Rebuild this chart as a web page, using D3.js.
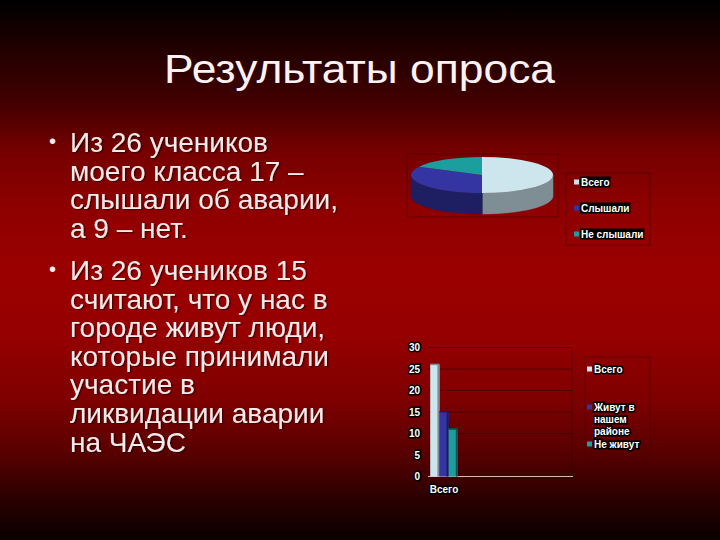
<!DOCTYPE html>
<html><head><meta charset="utf-8">
<script src="https://cdn.jsdelivr.net/npm/d3@7"></script>
<style>html,body{margin:0;padding:0;background:#000;}svg{display:block;}</style>
</head><body>
<svg id="c" width="720" height="540"></svg>
<script>
// ---- data ----
const titleText = "Результаты опроса";
const bullet1 = ["Из 26 учеников", "моего класса 17 –", "слышали об аварии,", "а 9 – нет."];
const bullet2 = ["Из 26 учеников 15", "считают, что у нас в", "городе живут люди,", "которые принимали", "участие в", "ликвидации аварии", "на ЧАЭС"];
const pieLabels = ["Всего", "Слышали", "Не слышали"];
const pieValues = [26, 17, 9];
const pieTopColors = ["#cde6ee", "#3434a2", "#1c9e9e"];
const pieSideColors = ["#7e8e94", "#1e1e62", "#0f5c5c"];
const barCategories = ["Всего"];
const barSeries = ["Всего", "Живут в нашем районе", "Не живут"];
const barLegendLines = [["Всего"], ["Живут в", "нашем", "районе"], ["Не живут"]];
const barValues = [26, 15, 11];
const barColors = ["#cde6ee", "#3434a2", "#1c9e9e"];
const barSideColors = ["#7e8e94", "#1a1a5e", "#0c5252"];
const yTicks = [0, 5, 10, 15, 20, 25, 30];

const svg = d3.select("#c");
const font = "'Liberation Sans', Arial, sans-serif";

// background gradient
const defs = svg.append("defs");
const bg = defs.append("linearGradient").attr("id", "bg").attr("x1", 0).attr("y1", 0).attr("x2", 0).attr("y2", 1);
[[0, "#000000"], [0.09, "#220000"], [0.19, "#420000"], [0.28, "#760000"], [0.38, "#8e0000"], [0.5, "#9b0000"],
 [0.62, "#960000"], [0.74, "#7e0000"], [0.84, "#580000"], [0.93, "#280000"], [1, "#0a0000"]]
  .forEach(([o, c]) => bg.append("stop").attr("offset", o).attr("stop-color", c));
const sh = defs.append("filter").attr("id", "sh").attr("x", "-5%").attr("y", "-20%").attr("width", "110%").attr("height", "140%");
sh.append("feDropShadow").attr("dx", 1.5).attr("dy", 1.2).attr("stdDeviation", 0.6)
  .attr("flood-color", "#000").attr("flood-opacity", 0.45);
svg.append("rect").attr("width", 720).attr("height", 540).attr("fill", "url(#bg)");

// title
svg.append("text").attr("x", 359.5).attr("y", 83).attr("text-anchor", "middle")
  .attr("font-family", font).attr("font-size", 41.5).attr("fill", "#fbf3f3")
  .attr("textLength", 391).attr("lengthAdjust", "spacingAndGlyphs").text(titleText);

// body text
function drawBullet(lines, y0) {
  const lh = 28.6;
  svg.append("text").attr("x", 49).attr("y", y0 - 4).attr("font-family", font).attr("font-size", 20)
    .attr("fill", "#f6ecec").text("•");
  lines.forEach((l, i) => {
    svg.append("text").attr("x", 70).attr("y", y0 + i * lh).attr("font-family", font).attr("font-size", 28)
      .attr("fill", "#f6ecec").attr("filter", "url(#sh)").text(l);
  });
}
drawBullet(bullet1, 152);
drawBullet(bullet2, 280);

// ---- 3D pie ----
const cx = 482, cy = 175, rx = 71, ry = 18, depth = 21;
const arcs = d3.pie().sort(null).value(d => d)(pieValues);
const pt = (a, dy) => [cx + rx * Math.sin(a), cy - ry * Math.cos(a) + dy];
svg.append("rect").attr("x", 407).attr("y", 154).attr("width", 151).attr("height", 63)
  .attr("fill", "none").attr("stroke", "rgba(70,0,0,0.6)").attr("stroke-width", 1);
const line = d3.line();
arcs.forEach((a, i) => {
  const a0 = Math.max(a.startAngle, Math.PI / 2), a1 = Math.min(a.endAngle, 3 * Math.PI / 2);
  if (a0 >= a1) return;
  const n = 40, top = [], bot = [];
  for (let k = 0; k <= n; k++) { const t = a0 + (a1 - a0) * k / n; top.push(pt(t, 0)); bot.push(pt(t, depth)); }
  svg.append("path").attr("d", line(top.concat(bot.reverse())) + "Z")
    .attr("fill", pieSideColors[i]).attr("stroke", pieSideColors[i]).attr("stroke-width", 0.5);
});
const pg = svg.append("g").attr("transform", `translate(${cx},${cy}) scale(1,${ry / rx})`);
pg.selectAll("path").data(arcs).join("path")
  .attr("d", d3.arc().innerRadius(0).outerRadius(rx))
  .attr("fill", (d, i) => pieTopColors[i]);
svg.append("line").attr("x1", cx).attr("x2", cx).attr("y1", cy + ry).attr("y2", cy + ry + depth)
  .attr("stroke", "#222244").attr("stroke-width", 1);

// pie legend
svg.append("rect").attr("x", 566).attr("y", 173).attr("width", 84).attr("height", 72)
  .attr("fill", "none").attr("stroke", "rgba(70,0,0,0.6)");
pieLabels.forEach((l, i) => {
  const yy = 182 + i * 26;
  svg.append("rect").attr("x", 574).attr("y", yy - 2.5).attr("width", 5).attr("height", 5).attr("fill", pieTopColors[i]);
  const t = svg.append("text").attr("x", 581).attr("y", yy).attr("dominant-baseline", "central")
    .attr("font-family", font).attr("font-weight", "bold").attr("font-size", 10).attr("fill", "#fff").text(l);
  const bb = t.node().getBBox();
  svg.insert("rect", () => t.node()).attr("x", bb.x - 1).attr("y", bb.y).attr("width", bb.width + 2).attr("height", bb.height)
    .attr("fill", "#000");
});

// ---- bar chart ----
const plotL = 428, plotR = 572;
const y = d3.scaleLinear().domain([0, 30]).range([476.5, 347.5]);
const x0 = d3.scaleBand().domain(barCategories).range([plotL, 460]).paddingOuter(0.08);
const x1 = d3.scaleBand().domain(barSeries).range([0, x0.bandwidth()]);
const bgG = svg.append("g");
yTicks.filter(t => t > 0).forEach(t => {
  bgG.append("line").attr("x1", plotL).attr("x2", plotR).attr("y1", y(t)).attr("y2", y(t))
    .attr("stroke", "rgba(55,0,0,0.6)").attr("stroke-width", 1);
});
bgG.append("line").attr("x1", plotR).attr("x2", plotR).attr("y1", y(30)).attr("y2", y(0))
  .attr("stroke", "rgba(55,0,0,0.6)");
bgG.append("line").attr("x1", plotL).attr("x2", plotR + 1).attr("y1", y(0)).attr("y2", y(0))
  .attr("stroke", "#d8b8b8").attr("stroke-width", 1.2);

const cat = barCategories[0];
barSeries.forEach((s, i) => {
  const bx = x0(cat) + x1(s), bw = x1.bandwidth(), v = barValues[i];
  svg.append("rect").attr("x", bx).attr("y", y(v)).attr("width", bw).attr("height", y(0) - y(v)).attr("fill", barColors[i]);
  svg.append("rect").attr("x", bx + bw - 2).attr("y", y(v)).attr("width", 2).attr("height", y(0) - y(v)).attr("fill", barSideColors[i]);
  svg.append("rect").attr("x", bx).attr("y", y(v) - 1).attr("width", bw).attr("height", 1.5).attr("fill", barSideColors[i]);
});

const axG = svg.append("g").attr("transform", "translate(420,0)")
  .call(d3.axisLeft(y).tickValues(yTicks).tickSize(0).tickPadding(0));
axG.select(".domain").remove();
axG.selectAll("text").attr("font-family", font).attr("font-weight", "bold").attr("font-size", 10)
  .attr("fill", "#fff").attr("stroke", "#000").attr("stroke-width", 3).attr("paint-order", "stroke");

svg.append("text").attr("x", x0(cat) + x0.bandwidth() / 2).attr("y", 489).attr("text-anchor", "middle")
  .attr("dominant-baseline", "central").attr("font-family", font).attr("font-weight", "bold").attr("font-size", 10)
  .attr("fill", "#fff").attr("stroke", "#000").attr("stroke-width", 3).attr("paint-order", "stroke").text(cat);

// bar legend
svg.append("rect").attr("x", 585).attr("y", 357).attr("width", 65).attr("height", 101)
  .attr("fill", "none").attr("stroke", "rgba(70,0,0,0.6)");
const legY = [369, 407, 444];
barLegendLines.forEach((ls, i) => {
  svg.append("rect").attr("x", 587).attr("y", legY[i] - 2.5).attr("width", 5).attr("height", 5).attr("fill", barColors[i]);
  ls.forEach((l, j) => {
    svg.append("text").attr("x", 594).attr("y", legY[i] + j * 12).attr("dominant-baseline", "central")
      .attr("font-family", font).attr("font-weight", "bold").attr("font-size", 10)
      .attr("fill", "#fff").attr("stroke", "#000").attr("stroke-width", 3).attr("paint-order", "stroke").text(l);
  });
});
</script>
</body></html>
